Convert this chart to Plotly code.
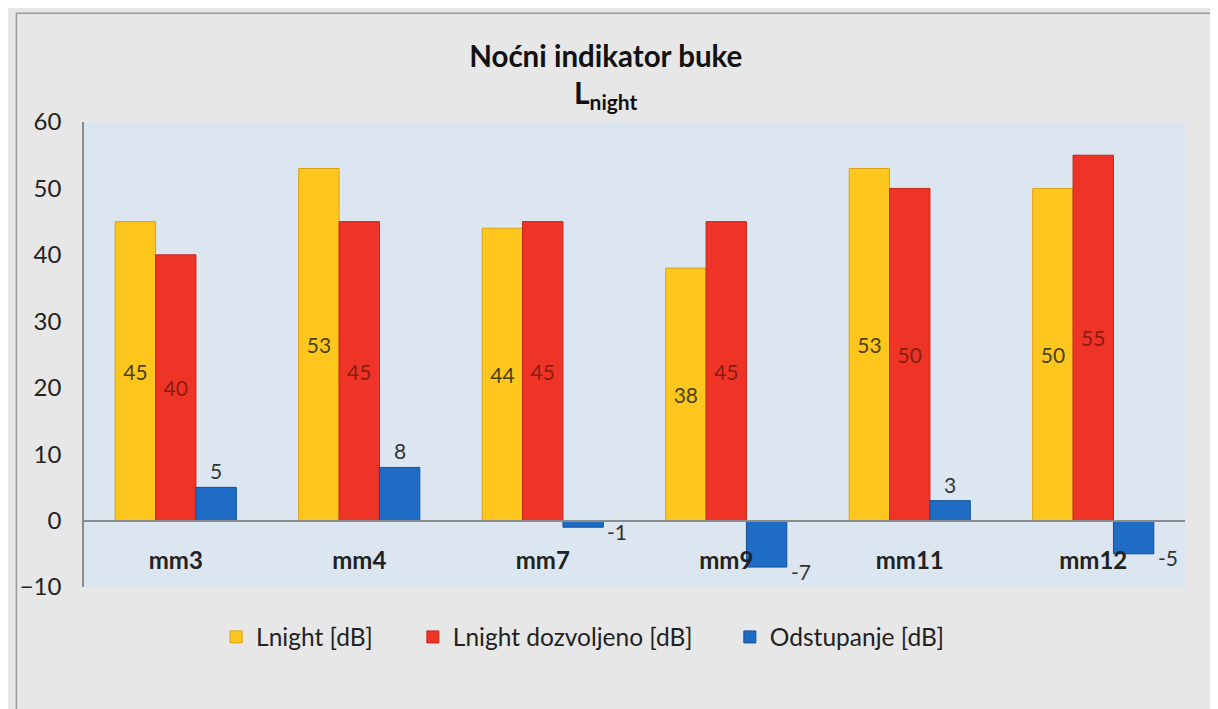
import plotly.graph_objects as go

# Data
categories = ["mm3", "mm4", "mm7", "mm9", "mm11", "mm12"]
lnight = [45, 53, 44, 38, 53, 50]
lnight_allowed = [40, 45, 45, 45, 50, 55]
deviation = [5, 8, -1, -7, 3, -5]
y_ticks = [-10, 0, 10, 20, 30, 40, 50, 60]

FONT = "Lato"
YELLOW = "#FFC61E"
RED = "#EE3427"
BLUE = "#1F6CC4"

BARGAP = 0.34

fig = go.Figure()

fig.add_trace(
    go.Bar(
        x=categories,
        y=lnight,
        name="Lnight [dB]",
        legend="legend",
        marker=dict(color=YELLOW, line=dict(color="#D9A20E", width=1)),
        text=lnight,
        textposition="inside",
        insidetextanchor="middle",
        textfont=dict(family=FONT, size=21, color="#4A4217"),
    )
)

fig.add_trace(
    go.Bar(
        x=categories,
        y=lnight_allowed,
        name="Lnight dozvoljeno [dB]",
        legend="legend2",
        marker=dict(color=RED, line=dict(color="#C5231A", width=1)),
        text=lnight_allowed,
        textposition="inside",
        insidetextanchor="middle",
        textfont=dict(family=FONT, size=21, color="#8C1C12"),
    )
)

fig.add_trace(
    go.Bar(
        x=categories,
        y=deviation,
        name="Odstupanje [dB]",
        legend="legend3",
        marker=dict(color=BLUE, line=dict(color="#164F95", width=1)),
    )
)

# Deviation labels: above the bar when positive, beside it when negative
bar_w = (1 - BARGAP) / 3
for i, v in enumerate(deviation):
    if v > 0:
        fig.add_annotation(
            x=i + bar_w,
            y=v,
            text=str(v),
            showarrow=False,
            xanchor="center",
            yanchor="bottom",
            yshift=2,
            font=dict(family=FONT, size=21, color="#333333"),
        )
    else:
        fig.add_annotation(
            x=i + bar_w * 1.5,
            y=v,
            text=str(v),
            showarrow=False,
            xanchor="left",
            yanchor="middle",
            xshift=2,
            yshift=-4,
            font=dict(family=FONT, size=21, color="#333333"),
        )

# Subtitle L_night
fig.add_annotation(
    text="<b>L<sub>night</sub></b>",
    xref="paper",
    yref="paper",
    x=0.4745,
    y=1.06,
    xanchor="center",
    yanchor="middle",
    showarrow=False,
    font=dict(family=FONT, size=30, color="#111111"),
)

# Outer chart frame (left and top edges visible)
fig.add_shape(
    type="rect",
    xref="paper",
    yref="paper",
    x0=-0.0614,
    x1=1.04,
    y0=-0.3,
    y1=1.234,
    line=dict(color="#9A9A9A", width=1.5),
    layer="below",
)

legend_style = dict(
    orientation="h",
    y=-0.1075,
    yanchor="middle",
    xanchor="left",
    bgcolor="rgba(0,0,0,0)",
    font=dict(family=FONT, size=24.5, color="#222222"),
)

fig.update_layout(
    title=dict(
        text="<b>Noćni indikator buke</b>",
        x=0.494,
        xanchor="center",
        y=1 - 49 / 701,
        yanchor="middle",
        font=dict(family=FONT, size=29.5, color="#111111"),
    ),
    barmode="group",
    bargap=BARGAP,
    bargroupgap=0,
    width=1210,
    height=701,
    margin=dict(l=69, r=33, t=114, b=122),
    paper_bgcolor="#E7E7E7",
    plot_bgcolor="#DCE6F1",
    font=dict(family=FONT, size=21, color="#222222"),
    legend=dict(x=0.120, **legend_style),
    legend2=dict(x=0.2987, **legend_style),
    legend3=dict(x=0.5866, **legend_style),
    showlegend=True,
)

fig.update_xaxes(
    type="category",
    anchor="free",
    position=10 / 70,
    showline=True,
    linecolor="#8C8C8C",
    linewidth=1.5,
    showgrid=False,
    ticks="",
    tickvals=categories,
    ticktext=[f"<b>{c}</b>" for c in categories],
    tickfont=dict(family=FONT, size=24, color="#222222"),
    ticklabelstandoff=19,
)

fig.update_yaxes(
    range=[-10, 60],
    tickvals=y_ticks,
    showline=True,
    linecolor="#8C8C8C",
    linewidth=1.5,
    showgrid=False,
    zeroline=False,
    ticks="",
    tickfont=dict(family=FONT, size=24, color="#222222"),
    ticklabelstandoff=16,
)

fig.write_html("out.html")
